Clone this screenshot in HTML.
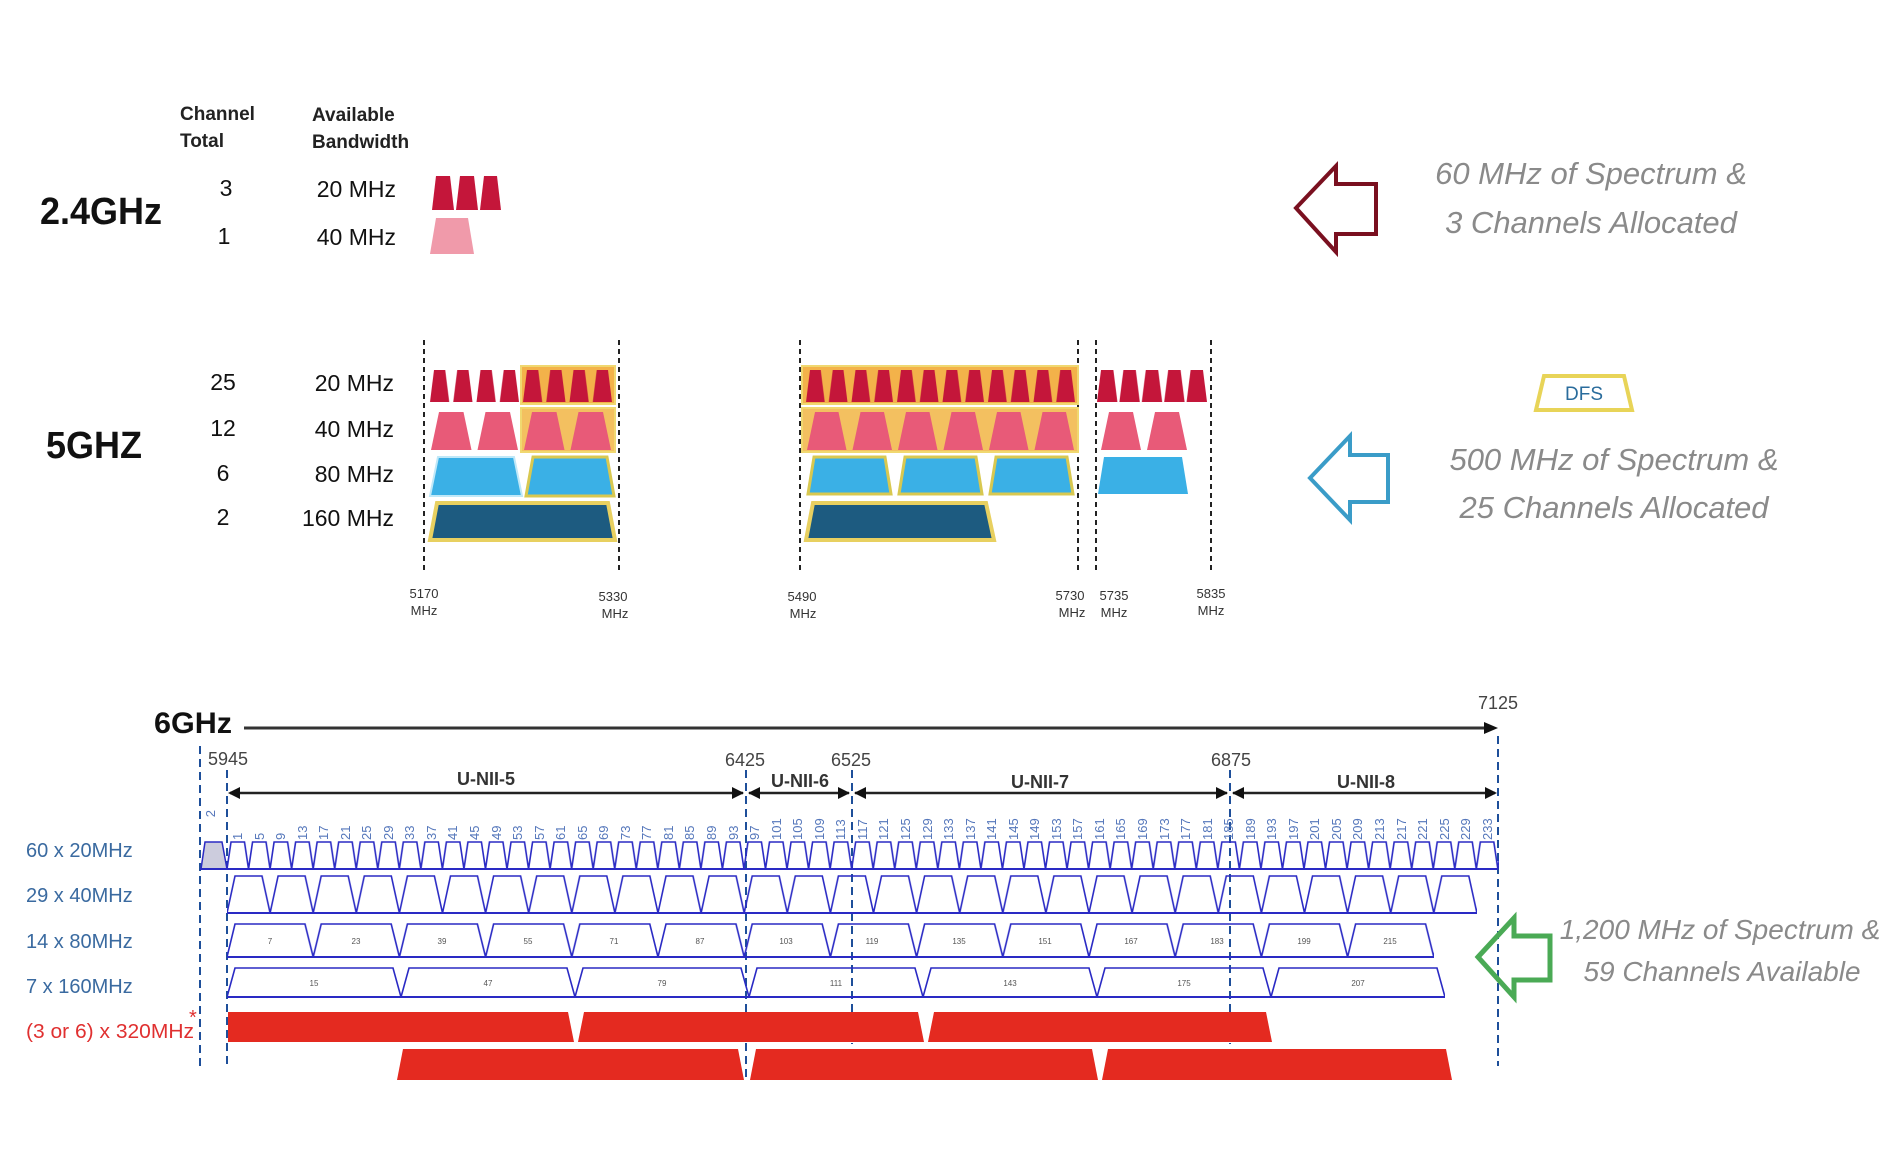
<!DOCTYPE html>
<html><head><meta charset="utf-8"><style>
html,body{margin:0;padding:0;background:#fff;}
body{width:1881px;height:1175px;position:relative;overflow:hidden;font-family:"Liberation Sans",sans-serif;}
.nums{position:absolute;left:227px;top:804px;width:1271px;height:36px;display:flex;}
.nums span{flex:1;writing-mode:vertical-rl;transform:rotate(180deg);font-size:13px;color:#5577bb;text-align:left;line-height:21px;}
</style></head><body>
<svg width="1881" height="1175" viewBox="0 0 1881 1175" xmlns="http://www.w3.org/2000/svg" style="position:absolute;left:0;top:0">
<defs>
<pattern id="r20a" x="428" y="368" width="23.25" height="34" patternUnits="userSpaceOnUse"><polygon points="2,34 6,2 17.25,2 21.25,34" fill="#c4163a"/></pattern>
<pattern id="r20b" x="804" y="368" width="22.75" height="34" patternUnits="userSpaceOnUse"><polygon points="2,34 6,2 16.75,2 20.75,34" fill="#c4163a"/></pattern>
<pattern id="r20c" x="1096" y="368" width="22.4" height="34" patternUnits="userSpaceOnUse"><polygon points="1,34 5,2 17.4,2 21.4,34" fill="#c4163a"/></pattern>
<pattern id="p40a" x="428" y="410" width="46.5" height="40" patternUnits="userSpaceOnUse"><polygon points="3,40 11,2 35.5,2 43.5,40" fill="#e85a78"/></pattern>
<pattern id="p40b" x="804" y="410" width="45.5" height="40" patternUnits="userSpaceOnUse"><polygon points="3,40 11,2 34.5,2 42.5,40" fill="#e85a78"/></pattern>
<pattern id="p40c" x="1098" y="410" width="46" height="40" patternUnits="userSpaceOnUse"><polygon points="3,40 11,2 35,2 43,40" fill="#e85a78"/></pattern>
<pattern id="p80b" x="804" y="454" width="91" height="42" patternUnits="userSpaceOnUse"><polygon points="4,40 10,3 81,3 87,40" fill="#3ab0e6" stroke="#d8c850" stroke-width="3"/></pattern>
<pattern id="s20" x="227" y="840" width="21.54" height="30" patternUnits="userSpaceOnUse"><path d="M0,29 L4,2 L17.5,2 L21.54,29" fill="none" stroke="#2a2ac4" stroke-width="1.6"/></pattern>
<pattern id="s40" x="227" y="874" width="43.1" height="40" patternUnits="userSpaceOnUse"><path d="M0,39 L8,2 L35,2 L43.1,39" fill="none" stroke="#2a2ac4" stroke-width="1.6"/></pattern>
<pattern id="s80" x="227" y="922" width="86.2" height="36" patternUnits="userSpaceOnUse"><path d="M0,35 L8,2 L78,2 L86.2,35" fill="none" stroke="#2a2ac4" stroke-width="1.6"/></pattern>
<pattern id="s160" x="227" y="966" width="174" height="32" patternUnits="userSpaceOnUse"><path d="M0,31 L8,2 L166,2 L174,31" fill="none" stroke="#2a2ac4" stroke-width="1.6"/></pattern>
</defs>

<g font-family="Liberation Sans, sans-serif">
<text x="40" y="224" font-size="38" font-weight="bold" fill="#111" textLength="122" lengthAdjust="spacingAndGlyphs">2.4GHz</text>
<text x="180" y="120" font-size="19" font-weight="bold" fill="#222">Channel</text>
<text x="180" y="147" font-size="19" font-weight="bold" fill="#222">Total</text>
<text x="312" y="121" font-size="19" font-weight="bold" fill="#222">Available</text>
<text x="312" y="148" font-size="19" font-weight="bold" fill="#222">Bandwidth</text>
<text x="226" y="196" font-size="23" text-anchor="middle" fill="#111">3</text>
<text x="224" y="244" font-size="23" text-anchor="middle" fill="#111">1</text>
<text x="396" y="197" font-size="23" text-anchor="end" fill="#111">20 MHz</text>
<text x="396" y="245" font-size="23" text-anchor="end" fill="#111">40 MHz</text>
</g>
<polygon points="432,210 436,176 450,176 454,210" fill="#c4163a"/>
<polygon points="456,210 460,176 474,176 478,210" fill="#c4163a"/>
<polygon points="480,210 484,176 497,176 501,210" fill="#c4163a"/>
<polygon points="430,254 436,218 468,218 474,254" fill="#f09aaa"/>

<polygon points="1296,208 1336,166 1336,184 1376,184 1376,234 1336,234 1336,252" fill="none" stroke="#7a1020" stroke-width="4"/>
<g font-family="Liberation Sans, sans-serif" font-style="italic" fill="#8a8a8a" font-size="31" text-anchor="middle">
<text x="1591" y="184">60 MHz of Spectrum &amp;</text>
<text x="1591" y="233">3 Channels Allocated</text>
<text x="1614" y="470">500 MHz of Spectrum &amp;</text>
<text x="1614" y="518">25 Channels Allocated</text>
<text x="1720" y="939" font-size="28">1,200 MHz of Spectrum &amp;</text>
<text x="1722" y="981" font-size="28">59 Channels Available</text>
</g>

<g font-family="Liberation Sans, sans-serif" fill="#111">
<text x="46" y="458" font-size="38" font-weight="bold" textLength="96" lengthAdjust="spacingAndGlyphs">5GHZ</text>
<text x="223" y="390" font-size="23" text-anchor="middle">25</text>
<text x="223" y="436" font-size="23" text-anchor="middle">12</text>
<text x="223" y="481" font-size="23" text-anchor="middle">6</text>
<text x="223" y="525" font-size="23" text-anchor="middle">2</text>
<text x="394" y="391" font-size="23" text-anchor="end">20 MHz</text>
<text x="394" y="437" font-size="23" text-anchor="end">40 MHz</text>
<text x="394" y="482" font-size="23" text-anchor="end">80 MHz</text>
<text x="394" y="526" font-size="23" text-anchor="end">160 MHz</text>
</g>
<g stroke="#222" stroke-width="2" stroke-dasharray="5,4">
<line x1="424" y1="340" x2="424" y2="574"/><line x1="619" y1="340" x2="619" y2="574"/>
<line x1="800" y1="340" x2="800" y2="574"/><line x1="1078" y1="340" x2="1078" y2="574"/>
<line x1="1096" y1="340" x2="1096" y2="574"/><line x1="1211" y1="340" x2="1211" y2="574"/>
</g>
<rect x="521" y="366" width="94" height="38" fill="#f3b24a" stroke="#f0d870" stroke-width="2"/>
<rect x="802" y="366" width="276" height="38" fill="#f3b24a" stroke="#f0d870" stroke-width="2"/>
<rect x="521" y="408" width="94" height="44" fill="#f3c060" stroke="#f0d870" stroke-width="2"/>
<rect x="802" y="408" width="276" height="44" fill="#f3c060" stroke="#f0d870" stroke-width="2"/>
<rect x="428" y="368" width="186" height="34" fill="url(#r20a)"/>
<rect x="804" y="368" width="273" height="34" fill="url(#r20b)"/>
<rect x="1096" y="368" width="112" height="34" fill="url(#r20c)"/>
<rect x="428" y="410" width="186" height="40" fill="url(#p40a)"/>
<rect x="804" y="410" width="273" height="40" fill="url(#p40b)"/>
<rect x="1098" y="410" width="92" height="40" fill="url(#p40c)"/>
<polygon points="430,496 438,457 514,457 522,496" fill="#3ab0e6" stroke="#bfe8f8" stroke-width="2"/>
<polygon points="526,496 533,457 607,457 614,496" fill="#3ab0e6" stroke="#d8c850" stroke-width="3"/>
<rect x="804" y="454" width="273" height="42" fill="url(#p80b)"/>
<polygon points="1098,494 1104,457 1182,457 1188,494" fill="#3ab0e6"/>
<polygon points="430,540 437,503 608,503 615,540" fill="#1d5b80" stroke="#e8d060" stroke-width="4"/>
<polygon points="806,540 813,503 986,503 994,540" fill="#1d5b80" stroke="#e8d060" stroke-width="4"/>
<g font-family="Liberation Sans, sans-serif" font-size="13" fill="#333" text-anchor="middle">
<text x="424" y="598">5170</text><text x="424" y="615">MHz</text>
<text x="613" y="601">5330</text><text x="615" y="618">MHz</text>
<text x="802" y="601">5490</text><text x="803" y="618">MHz</text>
<text x="1070" y="600">5730</text><text x="1072" y="617">MHz</text>
<text x="1114" y="600">5735</text><text x="1114" y="617">MHz</text>
<text x="1211" y="598">5835</text><text x="1211" y="615">MHz</text>
</g>
<polygon points="1536,410 1544,376 1624,376 1632,410" fill="#fff" stroke="#e8d458" stroke-width="4"/>
<text x="1584" y="400" font-family="Liberation Sans, sans-serif" font-size="19" fill="#2a6c9c" text-anchor="middle">DFS</text>
<polygon points="1310,478 1350,436 1350,455 1388,455 1388,502 1350,502 1350,520" fill="none" stroke="#3a9cc8" stroke-width="4"/>

<text x="154" y="733" font-family="Liberation Sans, sans-serif" font-size="30" font-weight="bold" fill="#111" textLength="78" lengthAdjust="spacingAndGlyphs">6GHz</text>
<line x1="244" y1="728" x2="1488" y2="728" stroke="#333" stroke-width="3"/>
<polygon points="1498,728 1484,722 1484,734" fill="#111"/>
<g font-family="Liberation Sans, sans-serif" font-size="18" fill="#444">
<text x="1498" y="709" text-anchor="middle">7125</text>
<text x="208" y="765">5945</text>
<text x="745" y="766" text-anchor="middle">6425</text>
<text x="851" y="766" text-anchor="middle">6525</text>
<text x="1231" y="766" text-anchor="middle">6875</text>
</g>
<g stroke="#1e4f9a" stroke-width="2" stroke-dasharray="8,5">
<line x1="200" y1="746" x2="200" y2="1066"/><line x1="227" y1="770" x2="227" y2="1066"/>
<line x1="746" y1="770" x2="746" y2="1082"/><line x1="852" y1="770" x2="852" y2="1044"/>
<line x1="1230" y1="770" x2="1230" y2="1044"/><line x1="1498" y1="736" x2="1498" y2="1066"/>
</g>
<g stroke="#222" stroke-width="2.5">
<line x1="230" y1="793" x2="743" y2="793"/><line x1="749" y1="793" x2="849" y2="793"/>
<line x1="855" y1="793" x2="1227" y2="793"/><line x1="1233" y1="793" x2="1495" y2="793"/>
</g>
<g fill="#111">
<polygon points="228,793 240,787 240,799"/><polygon points="744,793 732,787 732,799"/>
<polygon points="748,793 760,787 760,799"/><polygon points="850,793 838,787 838,799"/>
<polygon points="854,793 866,787 866,799"/><polygon points="1228,793 1216,787 1216,799"/>
<polygon points="1232,793 1244,787 1244,799"/><polygon points="1497,793 1485,787 1485,799"/>
</g>
<g font-family="Liberation Sans, sans-serif" font-size="18" font-weight="bold" fill="#333" text-anchor="middle">
<text x="486" y="785">U-NII-5</text><text x="800" y="787">U-NII-6</text>
<text x="1040" y="788">U-NII-7</text><text x="1366" y="788">U-NII-8</text>
</g>
<g font-family="Liberation Sans, sans-serif" font-size="20" fill="#3a6aa0">
<text x="26" y="857">60 x 20MHz</text><text x="26" y="902">29 x 40MHz</text>
<text x="26" y="948">14 x 80MHz</text><text x="26" y="993">7 x 160MHz</text>
<text x="26" y="1038" fill="#e03030" textLength="168" lengthAdjust="spacingAndGlyphs">(3 or 6) x 320MHz</text>
<text x="189" y="1024" fill="#e03030">*</text>
</g>
<polygon points="201,869 205,842 222,842 227,869" fill="#ccccdd" stroke="#2a2ac4" stroke-width="1.5"/>
<rect x="227" y="840" width="1272" height="30" fill="url(#s20)"/>
<line x1="200" y1="869" x2="1498" y2="869" stroke="#2a2ac4" stroke-width="2"/>
<rect x="227" y="874" width="1250" height="40" fill="url(#s40)"/>
<line x1="227" y1="913" x2="1477" y2="913" stroke="#2a2ac4" stroke-width="2"/>
<rect x="227" y="922" width="1207" height="36" fill="url(#s80)"/>
<line x1="227" y1="957" x2="1434" y2="957" stroke="#2a2ac4" stroke-width="2"/>
<rect x="227" y="966" width="1218" height="32" fill="url(#s160)"/>
<line x1="227" y1="997" x2="1445" y2="997" stroke="#2a2ac4" stroke-width="2"/>
<g fill="#e42a20">
<polygon points="228,1042 228,1012 568,1012 574,1042"/>
<polygon points="578,1042 584,1012 918,1012 924,1042"/>
<polygon points="928,1042 934,1012 1266,1012 1272,1042"/>
<polygon points="397,1080 403,1049 738,1049 744,1080"/>
<polygon points="750,1080 756,1049 1092,1049 1098,1080"/>
<polygon points="1102,1080 1108,1049 1446,1049 1452,1080"/>
</g>
<g font-family="Liberation Sans, sans-serif" font-size="8" fill="#555" text-anchor="middle">
<text x="270" y="944">7</text><text x="356" y="944">23</text><text x="442" y="944">39</text><text x="528" y="944">55</text><text x="614" y="944">71</text><text x="700" y="944">87</text><text x="786" y="944">103</text><text x="872" y="944">119</text><text x="959" y="944">135</text><text x="1045" y="944">151</text><text x="1131" y="944">167</text><text x="1217" y="944">183</text><text x="1304" y="944">199</text><text x="1390" y="944">215</text>
<text x="314" y="986">15</text><text x="488" y="986">47</text><text x="662" y="986">79</text><text x="836" y="986">111</text><text x="1010" y="986">143</text><text x="1184" y="986">175</text><text x="1358" y="986">207</text>
</g>
<polygon points="1478,957 1514,918 1514,936 1550,936 1550,980 1514,980 1514,997" fill="none" stroke="#4aaa55" stroke-width="5"/>
</svg>
<div class="nums"><span>1</span><span>5</span><span>9</span><span>13</span><span>17</span><span>21</span><span>25</span><span>29</span><span>33</span><span>37</span><span>41</span><span>45</span><span>49</span><span>53</span><span>57</span><span>61</span><span>65</span><span>69</span><span>73</span><span>77</span><span>81</span><span>85</span><span>89</span><span>93</span><span>97</span><span>101</span><span>105</span><span>109</span><span>113</span><span>117</span><span>121</span><span>125</span><span>129</span><span>133</span><span>137</span><span>141</span><span>145</span><span>149</span><span>153</span><span>157</span><span>161</span><span>165</span><span>169</span><span>173</span><span>177</span><span>181</span><span>185</span><span>189</span><span>193</span><span>197</span><span>201</span><span>205</span><span>209</span><span>213</span><span>217</span><span>221</span><span>225</span><span>229</span><span>233</span></div>
<div style="position:absolute;left:203px;top:810px;writing-mode:vertical-rl;transform:rotate(180deg);font-size:13px;color:#5577bb;">2</div>
</body></html>
